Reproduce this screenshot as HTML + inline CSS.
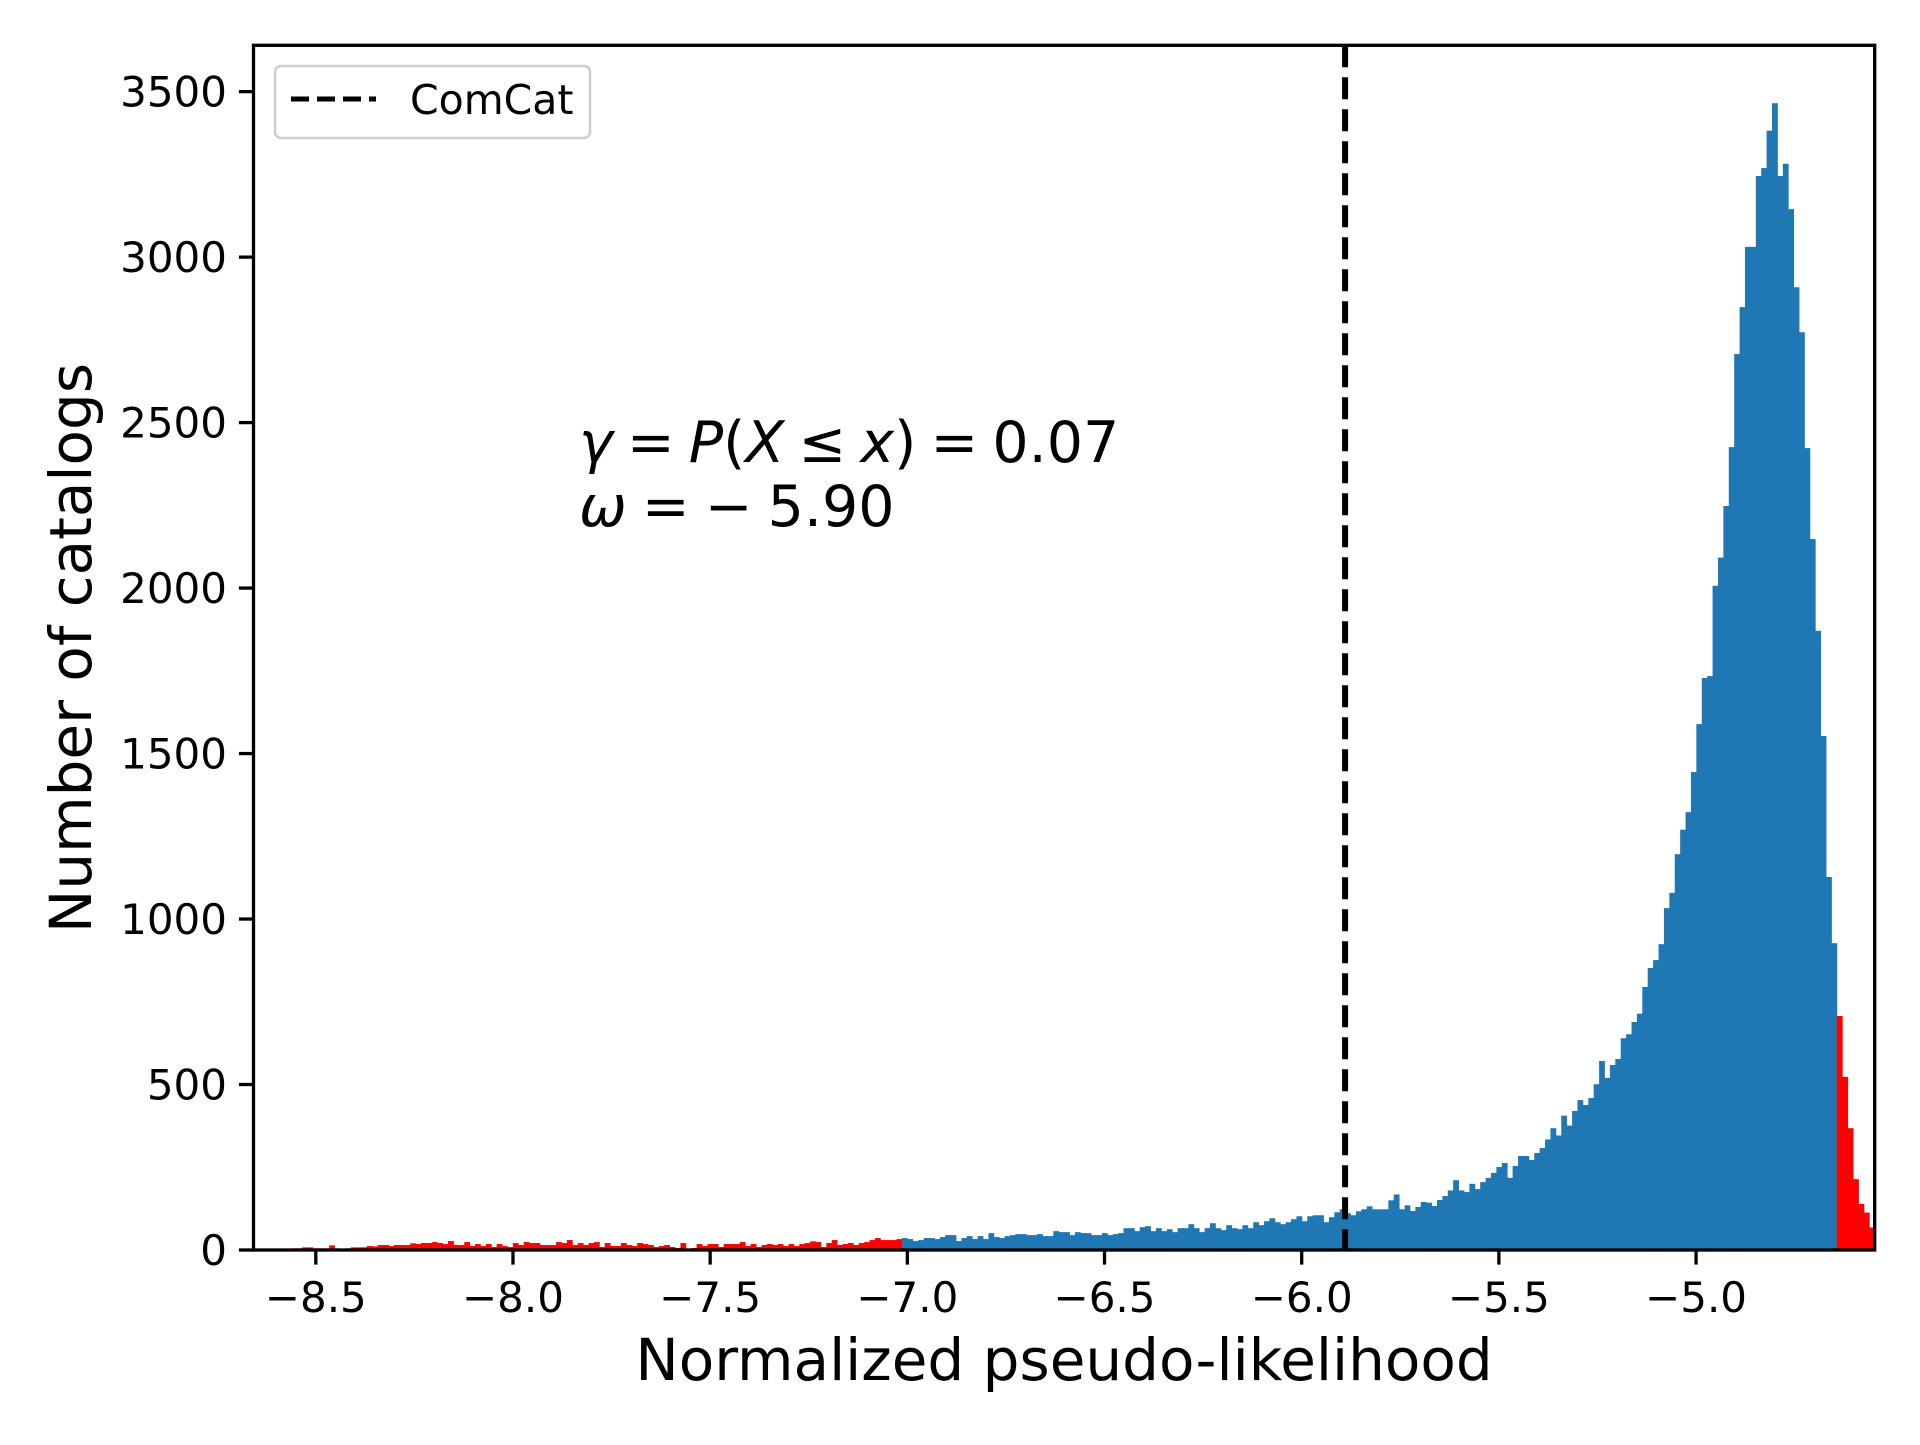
<!DOCTYPE html>
<html><head><meta charset="utf-8"><style>
html,body{margin:0;padding:0;background:#fff}
svg text{font-family:"DejaVu Sans","Liberation Sans",sans-serif}
</style></head><body>
<svg id="chart" width="1920" height="1440" viewBox="0 0 1920 1440" xmlns="http://www.w3.org/2000/svg">
<rect width="1920" height="1440" fill="#fff"/>
<g id="bars"></g>
<g id="axes"></g>
</svg>
<script>
const redLeft = [4,2,2,2,2,2,2,5,5,8,8,5,5,5,14,5,3,5,8,8,8,12,11,15,15,12,15,15,15,20,18,21,21,24,21,18,27,15,15,24,12,18,12,18,9,18,12,9,21,15,24,21,21,15,15,15,24,21,30,15,21,15,21,24,9,21,12,12,21,15,12,21,18,15,9,12,15,9,6,21,2,6,18,12,18,18,9,18,18,18,24,12,18,9,15,18,15,18,12,18,12,18,21,26,24,9,21,30,15,18,21,15,21,24,30,36,30,30,30,33];
const blueMid = [36,33,27,30,36,36,33,39,45,45,27,36,42,33,42,33,51,39,36,42,45,48,48,45,45,48,42,42,57,54,54,45,54,51,51,45,45,51,45,48,51,66,66,57,69,72,57,66,57,63,54,66,66,78,66,54,66,81,66,60,75,66,63,75,66,84,75,87,96,84,78,84,93,102,87,102,105,105,84,99,114,123,111,105,117,123,132,123,123,123,150,168,123,135];
const bluePeak = [118,130,145,143,133,151,163,180,211,180,175,200,184,205,218,233,251,263,218,254,284,284,272,293,308,334,368,346,406,376,420,453,438,459,501,571,520,559,577,640,652,689,714,795,852,876,924,1033,1079,1196,1270,1323,1444,1589,1728,1734,2007,2092,2248,2426,2707,2849,3031,3031,3245,3269,3382,3465,3245,3282,3145,2909,2773,2423,2148,1871,1553,1127,927];
const redRight = [707,523,368,214,139,113,68];
const xTicks = [-8.5,-8.0,-7.5,-7.0,-6.5,-6.0,-5.5,-5.0];
const yTicks = [0,500,1000,1500,2000,2500,3000,3500];
const comcatValue = -5.89;

const L=253.5,R=1874.7,T=45.3,B=1250;
const XMIN=-8.658,XMAX=-4.547,YMAX=3640;
function sx(v){return L+(v-XMIN)/(XMAX-XMIN)*(R-L);}
function sy(v){return B-v/YMAX*(B-T);}
const NS="http://www.w3.org/2000/svg";
function mk(tag,attrs,parent){const e=document.createElementNS(NS,tag);for(const k in attrs)e.setAttribute(k,attrs[k]);parent.appendChild(e);return e;}

const bars=document.getElementById('bars');
const segs=[[redLeft,'#ff0000'],[blueMid,'#1f77b4'],[bluePeak,'#1f77b4'],[redRight,'#ff0000']];
const total=segs.reduce((s,a)=>s+a[0].length,0);
const bw=(XMAX-XMIN)/total;
let idx=0;
segs.forEach(([arr,col])=>{
  arr.forEach(v=>{
    const x0=sx(XMIN+idx*bw),x1=sx(XMIN+(idx+1)*bw);
    const r=mk('rect',{x:x0,y:sy(v),width:x1-x0+0.4,height:B-sy(v),fill:col},bars);
    
    
    idx++;
  });
});

const ax=document.getElementById('axes');
const cl=mk('line',{x1:sx(comcatValue),x2:sx(comcatValue),y1:T,y2:B,stroke:'#000','stroke-width':6,'stroke-dasharray':'22 10'},ax);



const frame=mk('rect',{x:L,y:T,width:R-L,height:B-T,fill:'none',stroke:'#000','stroke-width':3.3},ax);



xTicks.forEach(t=>{
  const x=sx(t);
  const tk=mk('line',{x1:x,x2:x,y1:B,y2:B+14.6,stroke:'#000','stroke-width':3.3},ax);
  
  
  const tx=mk('text',{x:x,y:1312,'text-anchor':'middle','font-size':42},ax);
  tx.textContent=(t<0?'\u2212':'')+Math.abs(t).toFixed(1);
  
  
});
yTicks.forEach(t=>{
  const y=sy(t);
  const tk=mk('line',{x1:L-14.6,x2:L,y1:y,y2:y,stroke:'#000','stroke-width':3.3},ax);
  
  
  const tx=mk('text',{x:227,y:y+15,'text-anchor':'end','font-size':42},ax);
  tx.textContent=String(t);
  
  
});
</script>
<svg style="position:absolute;left:0;top:0" width="1920" height="1440" xmlns="http://www.w3.org/2000/svg">
<text x="1064" y="1380" text-anchor="middle" font-size="58" font-family="DejaVu Sans, Liberation Sans, sans-serif">Normalized pseudo-likelihood</text>
<text transform="translate(91,648) rotate(-90)" text-anchor="middle" font-size="58" font-family="DejaVu Sans, Liberation Sans, sans-serif">Number of catalogs</text>
<text x="579" y="462" font-size="57" word-spacing="-4" font-family="DejaVu Sans, Liberation Sans, sans-serif"><tspan font-style="italic">γ</tspan> = <tspan font-style="italic">P</tspan>(<tspan font-style="italic">X</tspan> ≤ <tspan font-style="italic">x</tspan>) = 0.07</text>
<text x="579" y="526" font-size="57" word-spacing="-3" font-family="DejaVu Sans, Liberation Sans, sans-serif"><tspan font-style="italic">ω</tspan> = − 5.90</text>
<g>
<rect x="275" y="66" width="315" height="72" rx="6" fill="#fff" stroke="#ccc" stroke-width="2.5"/>
<line x1="291" y1="99" x2="376" y2="99" stroke="#000" stroke-width="5" stroke-dasharray="18 8"/>
<text x="410" y="114" font-size="41" font-family="DejaVu Sans, Liberation Sans, sans-serif">ComCat</text>
</g>
</svg>
</body></html>
